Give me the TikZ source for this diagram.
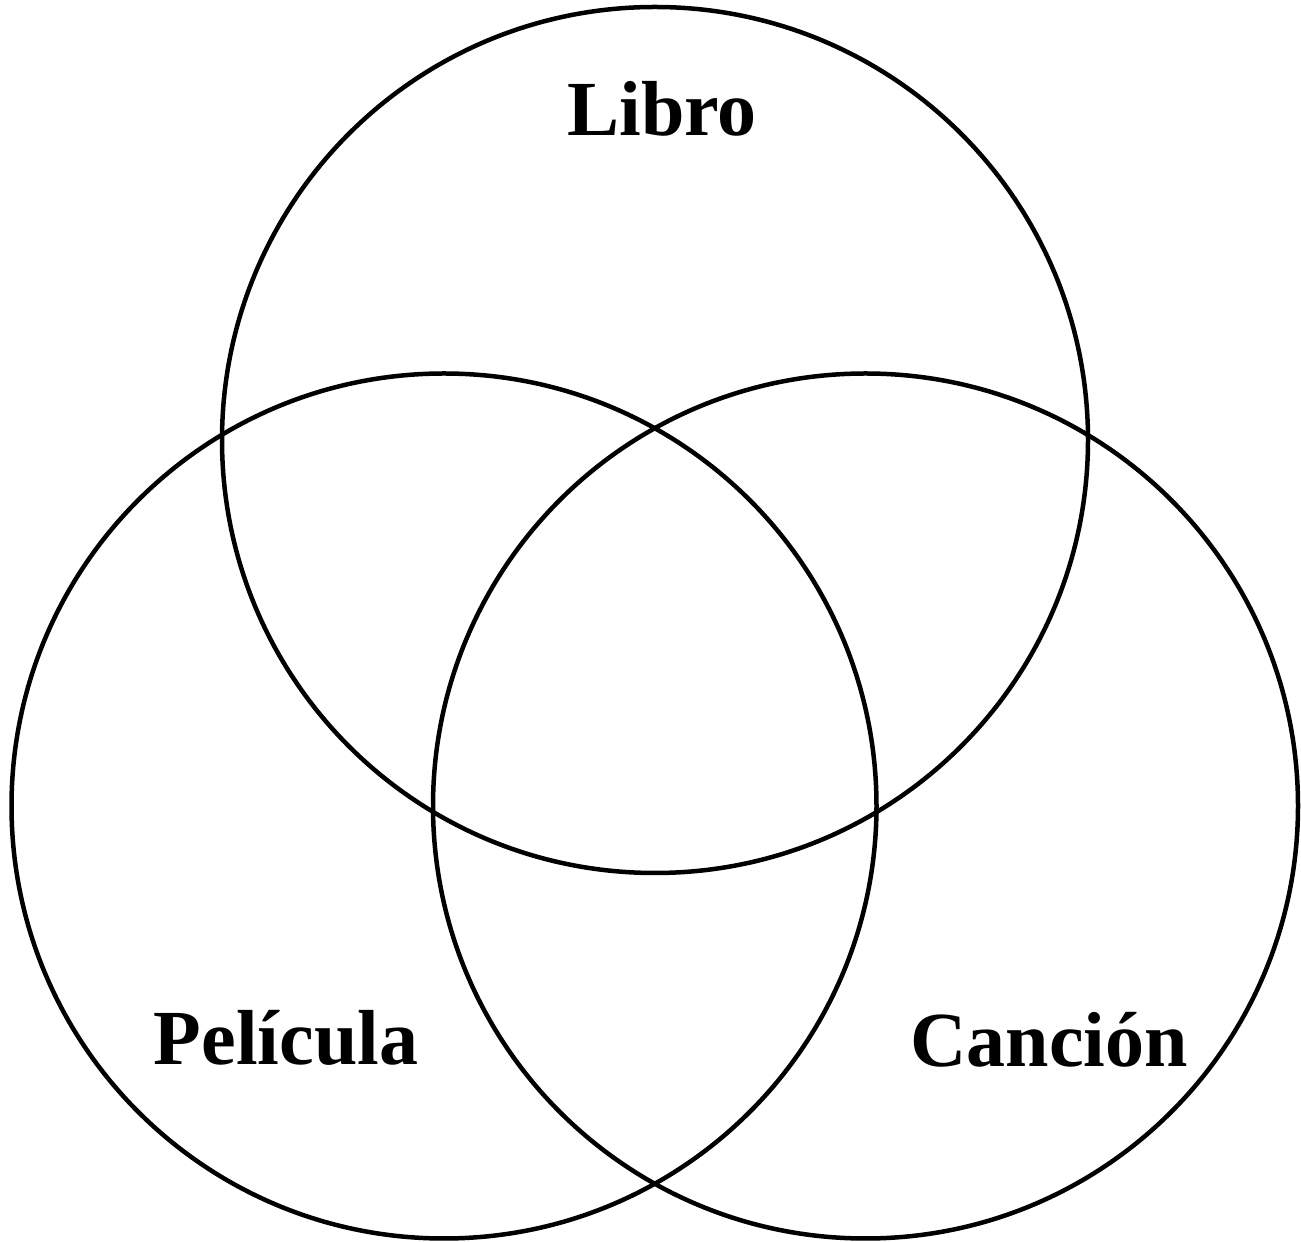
\documentclass[tikz,border=0pt]{standalone}
\usepackage{fontspec}
\setmainfont{Liberation Serif}
\begin{document}
\begin{tikzpicture}[x=1pt,y=1pt,
  ring/.style={draw=black,line width=4.5pt},
  lbl/.style={font=\fontsize{78}{80}\selectfont\bfseries,anchor=base,inner sep=0pt}]
\useasboundingbox (0,0) rectangle (1301,1242);
\fill[white] (0,0) rectangle (1301,1242);
\begin{scope}
\clip (0,0) rectangle (1301,1242);
\node[ring,circle,minimum size=866pt,inner sep=0pt] (top) at (655,802) {};
\node[ring,circle,minimum size=865pt,inner sep=0pt] (left) at (444,436) {};
\node[ring,circle,minimum size=865pt,inner sep=0pt] (right) at (865.5,436) {};
\end{scope}
\node[lbl] (libro) at (662,1106) {Libro};
\node[lbl] (pelicula) at (286,177) {Película};
\node[lbl] (cancion) at (1049,175) {Canción};
\end{tikzpicture}
\end{document}
